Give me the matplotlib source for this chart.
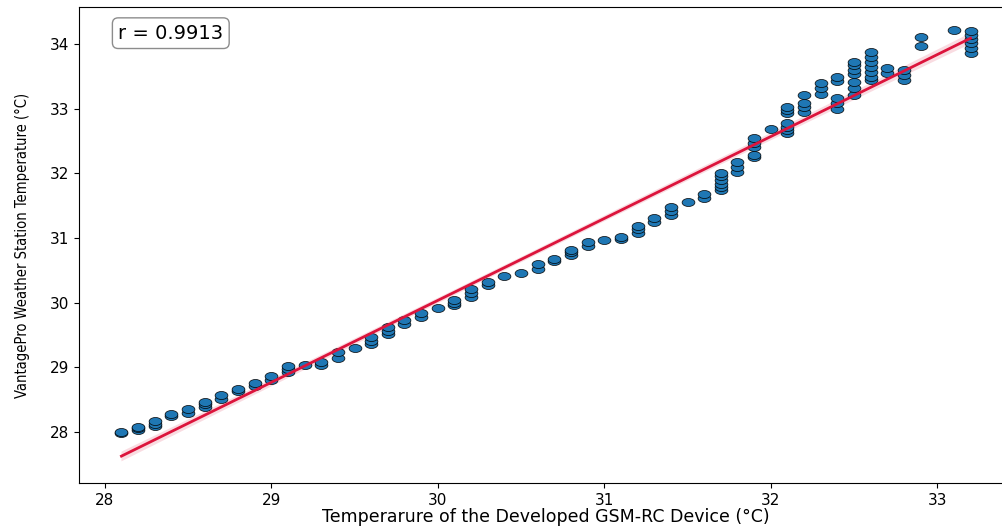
import numpy as np
import matplotlib
matplotlib.use('Agg')
import matplotlib.pyplot as plt
import seaborn as sns
from matplotlib.path import Path

# readings, grouped by device temperature (x), station temperature (y)
device_temp = (
    [28.1] * 2 + [28.2] * 3 + [28.3] * 3 + [28.4] * 2 + [28.5] * 2 + [28.6] * 3
    + [28.7] * 2 + [28.8] * 2 + [28.9] * 2 + [29.0] * 2 + [29.1] * 3 + [29.2]
    + [29.3] * 2 + [29.4] * 2 + [29.5] + [29.6] * 3 + [29.7] * 3 + [29.8] * 2
    + [29.9] * 2 + [30.0] + [30.1] * 3 + [30.2] * 3 + [30.3] * 2 + [30.4] + [30.5]
    + [30.6] * 2 + [30.7] * 2 + [30.8] * 3 + [30.9] * 2 + [31.0] + [31.1] * 2
    + [31.2] * 3 + [31.3] * 2 + [31.4] * 3 + [31.5] + [31.6] * 2 + [31.7] * 6
    + [31.8] * 3 + [31.9] * 5 + [32.0] + [32.1] * 7 + [32.2] * 4 + [32.3] * 3
    + [32.4] * 5 + [32.5] * 7 + [32.6] * 7 + [32.7] * 2 + [32.8] * 3 + [32.9] * 2
    + [33.1] + [33.2] * 6
)
station_temp = [
    27.98, 28.00,
    28.03, 28.06, 28.08,
    28.09, 28.13, 28.17,
    28.24, 28.28,
    28.30, 28.35,
    28.38, 28.43, 28.47,
    28.51, 28.57,
    28.63, 28.66,
    28.71, 28.76,
    28.80, 28.87,
    28.92, 28.97, 29.02,
    29.03,
    29.04, 29.08,
    29.15, 29.23,
    29.29,
    29.36, 29.41, 29.46,
    29.51, 29.56, 29.62,
    29.67, 29.73,
    29.77, 29.84,
    29.91,
    29.96, 30.00, 30.04,
    30.09, 30.15, 30.21,
    30.27, 30.32,
    30.41,
    30.46,
    30.52, 30.60,
    30.65, 30.68,
    30.74, 30.78, 30.81,
    30.87, 30.93,
    30.97,
    30.98, 31.02,
    31.08, 31.13, 31.18,
    31.25, 31.31,
    31.35, 31.42, 31.48,
    31.56,
    31.62, 31.68,
    31.74, 31.79, 31.84, 31.90, 31.95, 32.00,
    32.02, 32.10, 32.17,
    32.25, 32.28, 32.41, 32.46, 32.54,
    32.69,
    32.62, 32.67, 32.72, 32.77, 32.93, 32.98, 33.03,
    32.95, 33.03, 33.08, 33.21,
    33.23, 33.31, 33.39,
    33.00, 33.08, 33.16, 33.42, 33.49,
    33.21, 33.31, 33.41, 33.54, 33.59, 33.67, 33.72,
    33.44, 33.49, 33.57, 33.65, 33.72, 33.80, 33.88,
    33.55, 33.63,
    33.44, 33.52, 33.60,
    33.96, 34.11,
    34.22,
    33.86, 33.93, 34.01, 34.07, 34.14, 34.20,
]
r_text = "r = 0.9913"

x = np.array(device_temp)
y = np.array(station_temp)

# the reference picture is stretched sideways, so the dots are flat ellipses
circ = Path.unit_circle()
ellipse = Path(circ.vertices * np.array([1.6, 1.0]), circ.codes)

fig = plt.figure(figsize=(10.03, 5.27), dpi=100)
ax = fig.add_axes([79 / 1003, 44 / 527, (1013 - 79) / 1003, (483 - 7) / 527])

ax.scatter(x, y, s=85, marker=ellipse, color='#1f77b4',
           edgecolors='black', linewidths=0.5, zorder=2)
sns.regplot(x=x, y=y, ax=ax, scatter=False, seed=0,
            line_kws={'color': 'crimson', 'lw': 2, 'zorder': 3})

ax.set_xlim(27.845, 33.455)
ax.set_ylim(27.21, 34.57)
ax.set_xticks([28, 29, 30, 31, 32, 33])
ax.set_yticks([28, 29, 30, 31, 32, 33, 34])
ax.tick_params(labelsize=11)

ax.set_xlabel('Temperarure of the Developed GSM-RC Device (°C)', fontsize=12.5, labelpad=0)
ax.set_ylabel('VantagePro Weather Station Temperature (°C)', fontsize=10.5,
              fontstretch='condensed', labelpad=14)

ax.text(0.042, 0.945, r_text, transform=ax.transAxes, fontsize=14,
        ha='left', va='center',
        bbox=dict(boxstyle='round', facecolor='white', edgecolor='gray', alpha=0.9))

fig.savefig('out.png', dpi=100)
